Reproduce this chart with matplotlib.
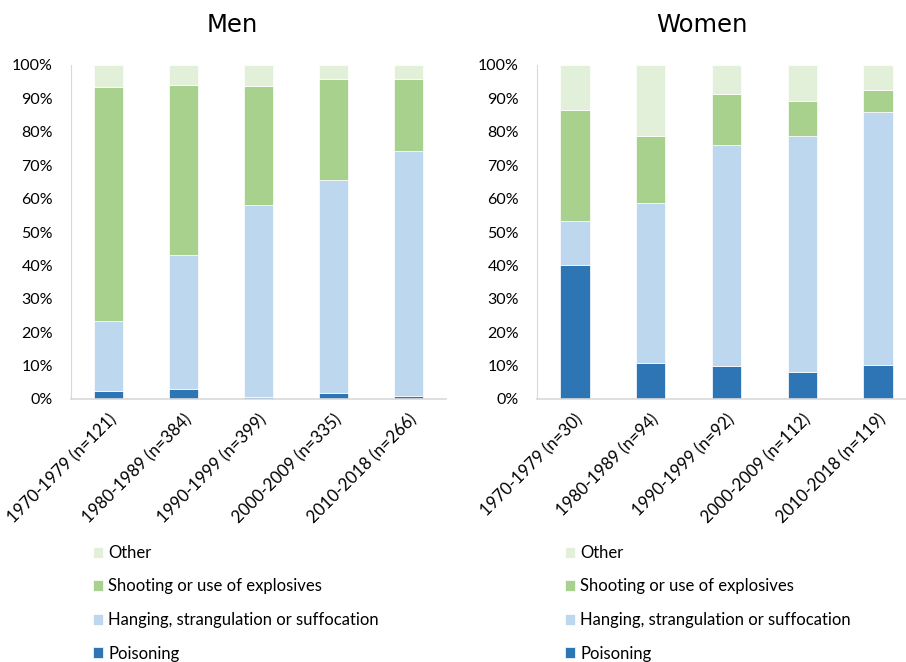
import matplotlib
matplotlib.use("Agg")
import matplotlib.pyplot as plt
import numpy as np
from matplotlib.ticker import PercentFormatter

plt.rcParams["font.family"] = ["Lato", "DejaVu Sans"]

# segment shares in percent
men_labels = ["1970-1979 (n=121)", "1980-1989 (n=384)", "1990-1999 (n=399)",
              "2000-2009 (n=335)", "2010-2018 (n=266)"]
women_labels = ["1970-1979 (n=30)", "1980-1989 (n=94)", "1990-1999 (n=92)",
                "2000-2009 (n=112)", "2010-2018 (n=119)"]

men_poisoning = [2.5, 3.1, 0.7, 1.9, 0.9]
men_hanging = [20.9, 40.1, 57.4, 63.7, 73.5]
men_shooting = [70.1, 50.9, 35.7, 30.3, 21.5]
men_other = [6.5, 5.9, 6.2, 4.1, 4.1]

women_poisoning = [40.0, 10.7, 9.9, 8.2, 10.2]
women_hanging = [13.4, 48.0, 66.2, 70.5, 75.7]
women_shooting = [33.2, 20.1, 15.3, 10.6, 6.6]
women_other = [13.4, 21.2, 8.6, 10.7, 7.5]

series_names = ["Poisoning", "Hanging, strangulation or suffocation",
                "Shooting or use of explosives", "Other"]
colors = ["#2E75B6", "#BDD7EE", "#A9D18E", "#E2F0D9"]

fig = plt.figure(figsize=(9.06, 6.62), dpi=100)
ax_m = fig.add_axes([71 / 906, 1 - 399 / 662, 375 / 906, 334 / 662])
ax_w = fig.add_axes([537 / 906, 1 - 399 / 662, 379 / 906, 334 / 662])


def draw_panel(ax, title, labels, parts, title_x, legend_x):
    x = np.arange(len(labels))
    bottom = np.zeros(len(labels))
    handles = []
    for vals, name, col in zip(parts, series_names, colors):
        h = ax.bar(x, vals, width=0.39, bottom=bottom, color=col,
                   edgecolor="white", linewidth=0.5, label=name)
        handles.append(h)
        bottom += np.array(vals)

    ax.set_xlim(-0.5, len(labels) - 0.5)
    ax.set_ylim(0, 100)
    ax.set_yticks(np.arange(0, 101, 10))
    ax.yaxis.set_major_formatter(PercentFormatter(decimals=0))
    ax.set_xticks(x)
    ax.set_xticklabels(labels, rotation=45, ha="right", va="top",
                       rotation_mode="anchor")
    ax.tick_params(axis="y", length=0, pad=13, labelsize=11.5, colors="#000000")
    ax.tick_params(axis="x", length=0, pad=9, labelsize=12.2)
    for s in ("top", "right"):
        ax.spines[s].set_visible(False)
    ax.spines["left"].set_color("#D9D9D9")
    ax.spines["bottom"].set_color("#D9D9D9")
    ax.spines["bottom"].set_linewidth(1.2)

    fig.text(title_x / 906, 1 - 25 / 662, title, ha="center", va="center",
             fontsize=17.5, family="DejaVu Sans")

    ax.legend(handles[::-1], series_names[::-1], loc="upper left",
              bbox_to_anchor=(legend_x / 906, 1 - 545 / 662),
              bbox_transform=fig.transFigure, frameon=False,
              fontsize=12, handlelength=0.62, handleheight=0.62,
              handletextpad=0.3, labelspacing=1.05, borderpad=0,
              borderaxespad=0)


draw_panel(ax_m, "Men", men_labels,
           [men_poisoning, men_hanging, men_shooting, men_other], 232, 93)
draw_panel(ax_w, "Women", women_labels,
           [women_poisoning, women_hanging, women_shooting, women_other], 702, 565)

fig.savefig("out.png", dpi=100)
